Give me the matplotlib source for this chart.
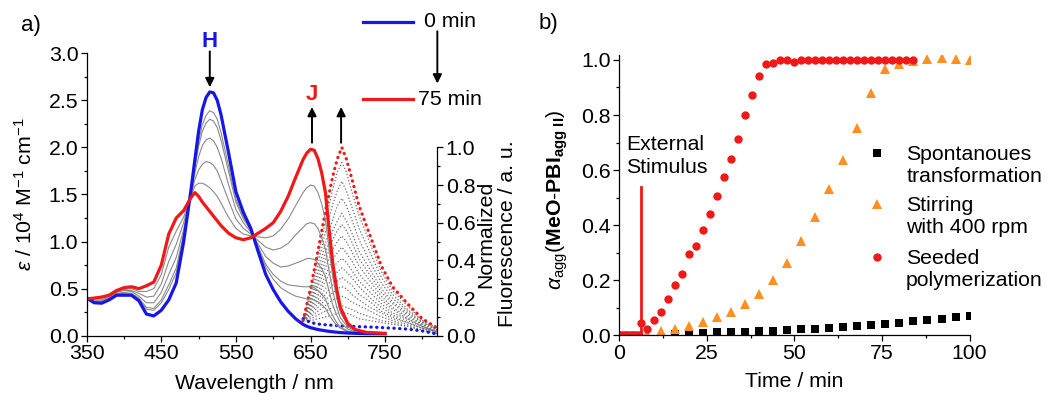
import matplotlib
matplotlib.use("Agg")
import matplotlib.pyplot as plt
from matplotlib.ticker import FormatStrFormatter, MultipleLocator

plt.rcParams['font.family'] = ['Liberation Sans', 'DejaVu Sans']
plt.rcParams['font.size'] = 15.3
plt.rcParams['mathtext.fontset'] = 'custom'
plt.rcParams['mathtext.rm'] = 'Liberation Sans'
plt.rcParams['mathtext.it'] = 'Liberation Sans:italic'
plt.rcParams['mathtext.bf'] = 'Liberation Sans:bold'
plt.rcParams['axes.linewidth'] = 0.9

# ---------------- panel a: absorption (left axis) ----------------
wl = [350, 360, 370, 380, 390, 400, 410, 420, 430, 440, 450, 460, 470, 480, 490,
      495, 500, 505, 510, 515, 520, 525, 530, 540, 550, 560, 570, 580, 590, 600,
      610, 620, 630, 640, 645, 650, 655, 660, 665, 670, 675, 680, 685, 690, 700,
      710, 725, 750]
abs_0min = [0.40, 0.35, 0.345, 0.38, 0.43, 0.43, 0.43, 0.37, 0.23, 0.21, 0.27, 0.38, 0.56, 1.00, 1.56,
            1.87, 2.17, 2.40, 2.53, 2.59, 2.58, 2.50, 2.35, 1.95, 1.53, 1.31, 1.14, 0.89, 0.65, 0.49,
            0.36, 0.26, 0.18, 0.12, 0.10, 0.085, 0.075, 0.065, 0.058, 0.052, 0.046, 0.041, 0.037, 0.033, 0.028,
            0.025, 0.022, 0.02]
abs_75min = [0.39, 0.40, 0.41, 0.43, 0.48, 0.51, 0.52, 0.50, 0.53, 0.57, 0.75, 1.08, 1.25, 1.33, 1.47,
             1.52, 1.48, 1.42, 1.37, 1.32, 1.27, 1.22, 1.17, 1.09, 1.04, 1.02, 1.04, 1.09, 1.14, 1.20,
             1.32, 1.48, 1.68, 1.87, 1.94, 1.98, 1.97, 1.88, 1.73, 1.52, 1.12, 0.76, 0.50, 0.30, 0.13,
             0.065, 0.035, 0.025]
abs_mid = [
    [0.40, 0.36, 0.36, 0.39, 0.44, 0.44, 0.44, 0.39, 0.28, 0.27, 0.35, 0.49, 0.67, 1.05, 1.55,
     1.81, 2.06, 2.24, 2.34, 2.39, 2.37, 2.30, 2.16, 1.81, 1.45, 1.26, 1.12, 0.92, 0.73, 0.60,
     0.51, 0.46, 0.42, 0.40, 0.39, 0.39, 0.38, 0.36, 0.33, 0.29, 0.22, 0.16, 0.11, 0.08, 0.04,
     0.03, 0.02, 0.02],
    [0.40, 0.36, 0.36, 0.39, 0.44, 0.45, 0.45, 0.40, 0.30, 0.29, 0.38, 0.54, 0.72, 1.08, 1.54,
     1.79, 2.01, 2.17, 2.26, 2.30, 2.28, 2.21, 2.08, 1.75, 1.42, 1.24, 1.12, 0.94, 0.76, 0.65,
     0.58, 0.54, 0.53, 0.52, 0.52, 0.52, 0.51, 0.48, 0.44, 0.39, 0.29, 0.21, 0.14, 0.09, 0.05,
     0.03, 0.025, 0.02],
    [0.40, 0.37, 0.37, 0.40, 0.45, 0.46, 0.47, 0.42, 0.35, 0.35, 0.46, 0.65, 0.83, 1.13, 1.53,
     1.73, 1.90, 2.02, 2.08, 2.10, 2.07, 2.00, 1.89, 1.61, 1.34, 1.20, 1.10, 0.97, 0.84, 0.77,
     0.73, 0.74, 0.77, 0.80, 0.82, 0.82, 0.81, 0.77, 0.71, 0.63, 0.47, 0.32, 0.22, 0.14, 0.07,
     0.04, 0.03, 0.02],
    [0.39, 0.38, 0.38, 0.41, 0.46, 0.48, 0.48, 0.45, 0.41, 0.42, 0.55, 0.79, 0.97, 1.20, 1.51,
     1.66, 1.76, 1.82, 1.85, 1.84, 1.81, 1.75, 1.65, 1.44, 1.24, 1.14, 1.08, 1.01, 0.94, 0.91,
     0.93, 0.98, 1.07, 1.15, 1.19, 1.20, 1.19, 1.14, 1.04, 0.92, 0.68, 0.47, 0.31, 0.19, 0.09,
     0.05, 0.03, 0.02],
    [0.39, 0.39, 0.40, 0.42, 0.47, 0.49, 0.50, 0.47, 0.47, 0.50, 0.65, 0.94, 1.11, 1.26, 1.49,
     1.59, 1.62, 1.62, 1.60, 1.57, 1.53, 1.48, 1.41, 1.26, 1.14, 1.08, 1.06, 1.05, 1.04, 1.06,
     1.13, 1.24, 1.38, 1.52, 1.57, 1.60, 1.59, 1.52, 1.40, 1.23, 0.91, 0.62, 0.41, 0.25, 0.11,
     0.06, 0.03, 0.02],
]

# ---------------- panel a: fluorescence (right axis) ----------------
fl_wl = [640, 650, 660, 670, 680, 686, 692, 698, 705, 715, 730, 745, 760, 780, 800, 820]
fl_0min = [0.09, 0.07, 0.062, 0.058, 0.055, 0.053, 0.052, 0.051, 0.05, 0.048, 0.046, 0.043, 0.04, 0.035, 0.025, 0.008]
fl_75min = [0.08, 0.25, 0.45, 0.66, 0.85, 0.94, 1.00, 0.94, 0.84, 0.69, 0.53, 0.37, 0.26, 0.17, 0.09, 0.04]
fl_mid = [
    [0.08, 0.24, 0.42, 0.61, 0.78, 0.87, 0.92, 0.87, 0.77, 0.64, 0.49, 0.34, 0.24, 0.16, 0.08, 0.04],
    [0.08, 0.22, 0.38, 0.55, 0.70, 0.77, 0.82, 0.77, 0.69, 0.57, 0.44, 0.31, 0.22, 0.14, 0.08, 0.03],
    [0.08, 0.20, 0.34, 0.49, 0.62, 0.69, 0.73, 0.69, 0.62, 0.51, 0.39, 0.28, 0.20, 0.13, 0.07, 0.03],
    [0.08, 0.18, 0.31, 0.44, 0.56, 0.61, 0.65, 0.61, 0.55, 0.45, 0.35, 0.25, 0.18, 0.12, 0.07, 0.03],
    [0.08, 0.17, 0.28, 0.40, 0.51, 0.56, 0.59, 0.56, 0.50, 0.41, 0.32, 0.23, 0.17, 0.11, 0.06, 0.03],
    [0.08, 0.16, 0.26, 0.36, 0.46, 0.50, 0.53, 0.50, 0.45, 0.37, 0.29, 0.21, 0.15, 0.10, 0.06, 0.02],
    [0.08, 0.15, 0.23, 0.32, 0.41, 0.44, 0.47, 0.44, 0.40, 0.33, 0.26, 0.19, 0.14, 0.09, 0.05, 0.02],
    [0.08, 0.14, 0.21, 0.29, 0.36, 0.39, 0.41, 0.39, 0.35, 0.29, 0.23, 0.17, 0.12, 0.09, 0.05, 0.02],
    [0.08, 0.13, 0.19, 0.25, 0.31, 0.34, 0.36, 0.34, 0.31, 0.26, 0.20, 0.15, 0.11, 0.08, 0.05, 0.02],
    [0.08, 0.12, 0.17, 0.22, 0.27, 0.29, 0.31, 0.29, 0.27, 0.22, 0.18, 0.13, 0.10, 0.07, 0.04, 0.02],
    [0.08, 0.11, 0.15, 0.19, 0.23, 0.25, 0.26, 0.25, 0.22, 0.19, 0.15, 0.12, 0.09, 0.07, 0.04, 0.02],
    [0.09, 0.10, 0.13, 0.16, 0.19, 0.20, 0.21, 0.20, 0.18, 0.16, 0.13, 0.10, 0.08, 0.06, 0.04, 0.01],
    [0.09, 0.09, 0.11, 0.13, 0.15, 0.15, 0.16, 0.15, 0.14, 0.12, 0.10, 0.08, 0.07, 0.05, 0.03, 0.01],
    [0.09, 0.08, 0.09, 0.10, 0.11, 0.12, 0.12, 0.12, 0.11, 0.09, 0.08, 0.07, 0.06, 0.05, 0.03, 0.01],
]

# ---------------- panel b: kinetics ----------------
t_spont = [16, 20, 24, 28, 32, 36, 40, 44, 48, 52, 56, 60, 64, 68, 72, 76, 80, 84, 88, 92, 96, 100]
a_spont = [0.004, 0.008, 0.010, 0.011, 0.012, 0.013, 0.016, 0.018, 0.021, 0.022, 0.024, 0.027,
           0.030, 0.035, 0.039, 0.042, 0.047, 0.052, 0.057, 0.061, 0.067, 0.072]
t_stir = [8, 12, 16, 20, 24, 28, 32, 36, 40, 44, 48, 52, 56, 60, 64, 68, 72, 76, 80, 84, 88, 92, 96, 100]
a_stir = [0.006, 0.015, 0.022, 0.036, 0.048, 0.067, 0.085, 0.113, 0.149, 0.200, 0.264, 0.343,
          0.430, 0.531, 0.636, 0.752, 0.881, 0.967, 0.987, 0.995, 1.002, 1.006, 1.002, 1.0]
t_seed = [0, 0.5, 1, 1.5, 2, 2.5, 3, 3.5, 4, 4.5, 5, 5.5, 6.2, 8, 10, 12, 14, 16, 18, 20, 22, 24,
          26, 28, 30, 32, 34, 36, 38, 40, 42, 44, 46, 48, 50, 52, 54, 56, 58, 60, 62, 64, 66, 68,
          70, 72, 74, 76, 78, 80, 82, 84]
a_seed = [0.0, 0.0, 0.0, 0.0, 0.0, 0.0, 0.0, 0.0, 0.0, 0.0, 0.0, 0.0, 0.046, 0.025, 0.058, 0.086,
          0.134, 0.185, 0.223, 0.294, 0.325, 0.383, 0.440, 0.505, 0.574, 0.640, 0.712, 0.800, 0.873,
          0.942, 0.985, 0.990, 0.998, 0.999, 0.994, 0.999, 0.998, 0.999, 0.998, 1.0, 0.999, 1.0,
          0.999, 1.0, 0.999, 1.0, 1.0, 0.999, 1.0, 1.0, 0.999, 1.0]
stimulus_time = 6.3
stimulus_top = 0.538

blue = '#1616e6'
red = '#f01818'
grey = '#8a8a8a'
orange = '#ff8f1f'

fig = plt.figure(figsize=(10.47, 3.94), dpi=100)
ax = fig.add_axes([0.0828, 0.148, 0.3349, 0.7167])
ax2 = ax.twinx()
ax.set_zorder(ax2.get_zorder() + 1)
ax.patch.set_visible(False)

# fluorescence
for f in fl_mid:
    ax2.plot(fl_wl, f, color='#6e6e6e', lw=0.9, ls=(0, (1, 1.6)))
ax2.plot(fl_wl, fl_0min, color=blue, lw=2.3, ls=(0, (0.1, 1.7)), dash_capstyle='round')
ax2.plot(fl_wl, fl_75min, color=red, lw=2.3, ls=(0, (0.1, 1.7)), dash_capstyle='round')

# absorption
for g in abs_mid:
    ax.plot(wl, g, color=grey, lw=0.8)
ax.plot(wl, abs_0min, color=blue, lw=2.3)
ax.plot(wl, abs_75min, color=red, lw=2.3)

ax.set_xlim(350, 820)
ax.set_ylim(0, 3.0)
ax2.set_ylim(0, 1.5)
ax.set_xticks([350, 450, 550, 650, 750])
ax.set_xticks([400, 500, 600, 700, 800], minor=True)
ax.yaxis.set_major_locator(MultipleLocator(0.5))
ax.yaxis.set_minor_locator(MultipleLocator(0.25))
ax.yaxis.set_major_formatter(FormatStrFormatter('%.1f'))
ax2.set_yticks([0, 0.2, 0.4, 0.6, 0.8, 1.0])
ax2.set_yticks([0.1, 0.3, 0.5, 0.7, 0.9], minor=True)
ax2.yaxis.set_major_formatter(FormatStrFormatter('%.1f'))
for a in (ax, ax2):
    a.tick_params(which='major', direction='out', length=4, width=0.9, pad=2)
    a.tick_params(which='minor', direction='out', length=2.5, width=0.9)
for s in ('top', 'right'):
    ax.spines[s].set_visible(False)
for s in ('top', 'left', 'bottom'):
    ax2.spines[s].set_visible(False)
ax2.spines['right'].set_bounds(0, 1.0)

ax.set_xlabel('Wavelength / nm')
ax.xaxis.set_label_coords(0.477, -0.135)
ax.set_ylabel(r'$\varepsilon$ / 10$^4$ M$^{-1}$ cm$^{-1}$')
ax.yaxis.set_label_coords(-0.145, 0.5)
ax.text(1.17, 0.36, 'Normalized\nFluorescence / a. u.', transform=ax.transAxes,
        rotation=90, ha='center', va='center', multialignment='center', linespacing=1.2)

# band labels and arrows
arrow = dict(arrowstyle='-|>', color='k', lw=1.4, mutation_scale=13, shrinkA=0, shrinkB=0)
ax.text(515, 3.13, 'H', color=blue, fontweight='bold', fontsize=16, ha='center', va='center', clip_on=False)
ax.annotate('', xy=(515, 2.64), xytext=(515, 3.02), arrowprops=arrow, annotation_clip=False)
ax.text(652, 2.56, 'J', color=red, fontweight='bold', fontsize=16, ha='center', va='center')
ax.annotate('', xy=(652, 2.43), xytext=(652, 2.05), arrowprops=arrow)
ax.annotate('', xy=(691, 2.43), xytext=(691, 2.05), arrowprops=arrow)

# time legend
ax.plot([0.788, 0.931], [1.112, 1.112], color=blue, lw=2.3, transform=ax.transAxes, clip_on=False)
ax.plot([0.788, 0.931], [0.837, 0.837], color=red, lw=2.3, transform=ax.transAxes, clip_on=False)
ax.text(0.962, 1.112, '0 min', transform=ax.transAxes, va='center', ha='left')
ax.text(0.946, 0.837, '75 min', transform=ax.transAxes, va='center', ha='left')
ax.annotate('', xy=(1.0, 0.893), xytext=(1.0, 1.078), xycoords='axes fraction',
            arrowprops=arrow, annotation_clip=False)

# ---------------- panel b ----------------
bx = fig.add_axes([0.5915, 0.1485, 0.3345, 0.712])
bx.plot(t_spont, a_spont, ls='none', marker='s', color='k', ms=5.2, mew=0)
bx.plot(t_stir, a_stir, ls='none', marker='^', color=orange, ms=7.2, mew=0)
bx.plot(t_seed, a_seed, ls='none', marker='o', color=red, ms=6, mew=0)
bx.plot([stimulus_time, stimulus_time], [0, stimulus_top], color=red, lw=2)
bx.text(1.9, 0.652, 'External\nStimulus', ha='left', va='center', linespacing=1.25)

bx.set_xlim(0, 100)
bx.set_ylim(0, 1.018)
bx.set_xticks([0, 25, 50, 75, 100])
bx.xaxis.set_minor_locator(MultipleLocator(12.5))
bx.yaxis.set_major_locator(MultipleLocator(0.2))
bx.yaxis.set_minor_locator(MultipleLocator(0.1))
bx.yaxis.set_major_formatter(FormatStrFormatter('%.1f'))
bx.tick_params(which='major', direction='out', length=4, width=0.9, pad=2)
bx.tick_params(which='minor', direction='out', length=2.5, width=0.9)
for s in ('top', 'right'):
    bx.spines[s].set_visible(False)
bx.set_xlabel('Time / min')
bx.xaxis.set_label_coords(0.5, -0.13)
bx.set_ylabel(r'$\alpha_{\rm agg}$($\mathbf{MeO}$-$\mathbf{PBI}_{\mathbf{agg\ II}}$)')
bx.yaxis.set_label_coords(-0.141, 0.483)

# marker legend
entries = [('s', 'k', 5.2, 0.651, 'Spontanoues\ntransformation'),
           ('^', orange, 7.2, 0.469, 'Stirring\nwith 400 rpm'),
           ('o', red, 6, 0.280, 'Seeded\npolymerization')]
for m, c, ms, y, lab in entries:
    bx.plot([0.736], [y], marker=m, color=c, ms=ms, mew=0, transform=bx.transAxes, clip_on=False)
    bx.text(0.819, y - 0.045, lab, transform=bx.transAxes, ha='left', va='center', linespacing=1.2)

fig.text(0.020, 0.921, 'a)', fontsize=16)
fig.text(0.514, 0.926, 'b)', fontsize=16)

fig.savefig('out.png', dpi=100)
